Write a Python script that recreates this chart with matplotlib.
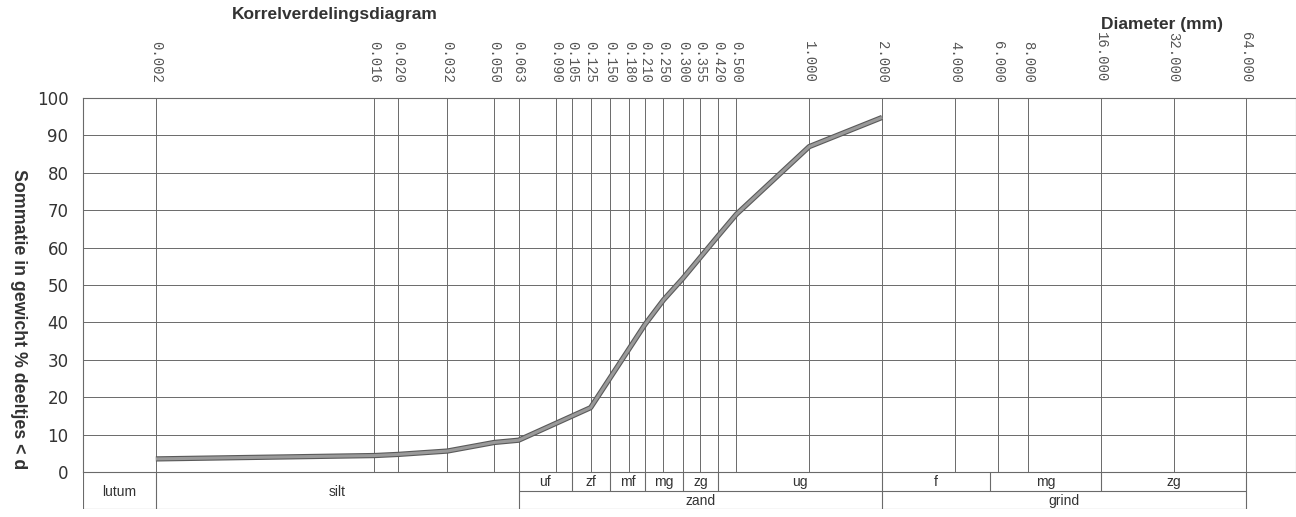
import numpy as np
import matplotlib.pyplot as plt
from matplotlib import patheffects as pe
from matplotlib.ticker import NullLocator, FixedLocator

W, H, DPI = 1296, 517, 100

# sieve diameters (mm) labelled along the top
tick_diam = [0.002, 0.016, 0.020, 0.032, 0.050, 0.063, 0.090, 0.105, 0.125,
             0.150, 0.180, 0.210, 0.250, 0.300, 0.355, 0.420, 0.500, 1.000,
             2.000, 4.000, 6.000, 8.000, 16.000, 32.000, 64.000]
y_ticks = list(range(0, 101, 10))

# cumulative passing (% by weight) per diameter
curve_d = [0.002, 0.016, 0.020, 0.032, 0.050, 0.063, 0.125, 0.210, 0.250,
           0.300, 0.355, 0.420, 0.500, 1.000, 2.000]
curve_pct = [3.5, 4.4, 4.7, 5.6, 7.9, 8.5, 17.2, 39.5, 46.0,
             51.7, 57.4, 63.1, 68.9, 87.0, 94.8]

# grain size classes
main_names = ['lutum', 'silt', 'zand', 'grind']
main_edges = [0.001, 0.002, 0.063, 2.0, 64.0]
sand_names = ['uf', 'zf', 'mf', 'mg', 'zg', 'ug']
sand_edges = [0.063, 0.105, 0.150, 0.210, 0.300, 0.420, 2.0]
gravel_names = ['f', 'mg', 'zg']
gravel_edges = [2.0, 5.6, 16.0, 64.0]

line_col = '#6a6a6a'
text_col = '#333333'

# axis geometry in pixels
left_px, top_px, bottom_px, table_px = 83, 98, 472, 509
px_per_octave = 72.87
xmin = 0.001
xmax = xmin * 2 ** ((W - left_px) / px_per_octave)

fig = plt.figure(figsize=(W / DPI, H / DPI), dpi=DPI)
ax = fig.add_axes([left_px / W, 1 - bottom_px / H, 1 - left_px / W,
                   (bottom_px - top_px) / H])
ax.set_xscale('log')
ax.set_xlim(xmin, xmax)
ax.set_ylim(0, 100)

ax.xaxis.set_major_locator(FixedLocator(tick_diam))
ax.xaxis.set_minor_locator(NullLocator())
ax.set_xticklabels([f'{d:.3f}' for d in tick_diam])
ax.xaxis.tick_top()
ax.tick_params(axis='x', length=0, pad=11, labelsize=10,
               labelcolor='#555555', labelrotation=-90)
for lab in ax.get_xticklabels():
    lab.set_family('Liberation Mono')

ax.set_yticks(y_ticks)
ax.tick_params(axis='y', length=0, pad=10.5, labelsize=12, labelcolor=text_col)

ax.grid(True, color=line_col, lw=0.7)
for sp in ax.spines.values():
    sp.set_color(line_col)
    sp.set_linewidth(0.8)

ax.plot(curve_d, curve_pct, color='#9a9a9a', lw=2.2, solid_capstyle='butt',
        path_effects=[pe.Stroke(linewidth=3.8, foreground='#5a5a5a'), pe.Normal()],
        zorder=3)

# classification table under the chart
tb = fig.add_axes([left_px / W, 1 - table_px / H, 1 - left_px / W,
                   (table_px - bottom_px) / H], sharex=ax)
tb.set_ylim(2, 0)
tb.axis('off')
lw = 0.8
tb.hlines(2, xmin, 64.0, color=line_col, lw=lw)
tb.hlines(1, 0.063, 64.0, color=line_col, lw=lw)
tb.vlines(main_edges, 0, 2, color=line_col, lw=lw)
tb.vlines(sand_edges[1:-1] + gravel_edges[1:-1], 0, 1, color=line_col, lw=lw)

tfont = dict(family=['Liberation Sans Narrow', 'Liberation Sans'],
             size=10, color=text_col, ha='center', va='center')
for i, name in enumerate(main_names):
    xc = np.sqrt(main_edges[i] * main_edges[i + 1])
    tb.text(xc, 1.1 if i < 2 else 1.55, name, **tfont)
for edges, names in ((sand_edges, sand_names), (gravel_edges, gravel_names)):
    for i, name in enumerate(names):
        xc = np.sqrt(edges[i] * edges[i + 1])
        tb.text(xc, 0.55, name, **tfont)

fig.text(335 / W, 1 - 15 / H, 'Korrelverdelingsdiagram', ha='center',
         va='center', fontsize=12.5, weight='bold', color=text_col,
         family='Liberation Sans')
fig.text(1162 / W, 1 - 25 / H, 'Diameter (mm)', ha='center', va='center',
         fontsize=12.5, weight='bold', color=text_col, family='Liberation Sans')
fig.text(18 / W, 1 - 319 / H, 'Sommatie in gewicht % deeltjes < d',
         rotation=-90, ha='center', va='center', fontsize=12.8, weight='bold',
         color=text_col, family='Liberation Sans')

fig.savefig('out.png', dpi=DPI)
